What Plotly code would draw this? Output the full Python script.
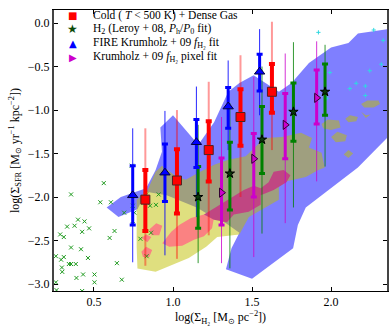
import plotly.graph_objects as go

# ---- filled density regions (data coords: log Sigma_H2, log Sigma_SFR)
blueX = [0.58, 0.67, 0.83, 0.89, 0.93, 0.92, 1.00, 1.08, 1.16, 1.26, 1.35, 1.42, 1.51, 1.67, 1.75, 1.86,
         2.00, 2.11, 2.17, 2.36, 2.36, 2.17, 1.84, 1.79, 1.76, 1.50, 1.335, 1.37, 1.42, 1.335, 1.25, 1.15,
         0.96, 0.83, 0.775, 0.655]
blueY = [-2.12, -2.00, -1.90, -1.69, -1.48, -1.20, -1.06, -1.23, -1.40, -1.14, -0.79, -0.69, -0.60, -0.79,
         -0.69, -0.46, -0.28, -0.23, -0.12, -0.07, -1.31, -1.66, -2.12, -2.32, -2.59, -2.94, -2.83, -2.59,
         -2.41, -2.30, -2.23, -2.12, -1.98, -1.94, -2.14, -2.23]

yellowX = [0.77, 0.84, 0.89, 0.93, 1.01, 1.08, 1.16, 1.26, 1.35, 1.46, 1.58, 1.69, 1.81, 1.88, 1.86, 1.94,
           1.96, 1.92, 1.84, 1.67, 1.67, 1.56, 1.48, 1.435, 1.42, 1.28, 1.21, 1.10, 1.00, 0.89, 0.775, 0.77]
yellowY = [-2.03, -1.92, -1.71, -1.64, -1.75, -1.80, -1.72, -1.63, -1.57, -1.53, -1.32, -1.31, -1.26, -1.32,
           -1.43, -1.49, -1.66, -1.69, -1.77, -1.84, -2.03, -2.15, -2.23, -2.38, -2.43, -2.46, -2.57, -2.70,
           -2.78, -2.86, -2.82, -2.57]

# small yellow islands lying under the blue region
islandsX = [[2.19, 2.23, 2.30, 2.31, 2.27, 2.21],
            [2.09, 2.12, 2.17, 2.16, 2.11],
            [2.19, 2.22, 2.25, 2.22],
            [1.94, 1.98, 2.05, 2.06, 2.00, 1.95],
            [2.00, 2.04, 2.10, 2.09, 2.03],
            [2.08, 2.11, 2.14, 2.11]]
islandsY = [[-0.93, -0.89, -0.89, -0.93, -0.97, -0.97],
            [-1.10, -1.06, -1.08, -1.13, -1.14],
            [-1.02, -1.09, -1.05, -1.06],
            [-1.16, -1.11, -1.12, -1.20, -1.23, -1.21],
            [-1.31, -1.25, -1.29, -1.36, -1.37],
            [-1.51, -1.46, -1.50, -1.55]]

pinkX = [[0.851, 0.894, 0.932, 0.913, 0.863],
         [0.80, 0.83, 0.863, 0.838],
         [0.80, 0.83, 0.868, 0.85, 0.81],
         [0.932, 0.989, 1.039, 1.114, 1.196, 1.259, 1.247, 1.196, 1.133, 1.058, 0.976]]
pinkY = [[-2.37, -2.30, -2.33, -2.44, -2.44],
         [-2.47, -2.43, -2.46, -2.52],
         [-2.63, -2.57, -2.61, -2.69, -2.69],
         [-2.53, -2.40, -2.32, -2.24, -2.20, -2.24, -2.36, -2.45, -2.49, -2.56, -2.57]]

magentaX = [1.196, 1.29, 1.366, 1.448, 1.511, 1.555, 1.605, 1.637, 1.70, 1.743, 1.718, 1.637, 1.555, 1.555,
            1.479, 1.385, 1.341, 1.259]
magentaY = [-2.20, -2.09, -2.01, -1.92, -1.87, -1.90, -1.83, -1.71, -1.69, -1.75, -1.83, -1.92, -1.98, -2.09,
            -2.17, -2.20, -2.29, -2.26]

# ---- scattered points
pixX = [0.562, 0.355, 0.540, 0.607, 0.691, 0.745, 0.756, 0.745, 0.399, 0.440, 0.377, 0.330, 0.469, 0.425,
        0.630, 0.286, 0.309, 0.599, 0.355, 0.418, 0.259, 0.309, 0.292, 0.462, 0.341, 0.355, 0.385, 0.645,
        0.297, 0.299, 0.503, 0.431, 0.389, 0.676, 0.503, 0.259, 0.263, 0.425, 0.794, 0.833, 0.739, 0.830,
        0.909, 0.855, 0.892, 0.861]
pixY = [-1.84, -1.97, -2.06, -2.06, -2.18, -2.10, -2.18, -2.31, -2.26, -2.28, -2.33, -2.34, -2.36, -2.40,
        -2.39, -2.43, -2.46, -2.47, -2.58, -2.60, -2.68, -2.69, -2.72, -2.70, -2.77, -2.77, -2.77, -2.76,
        -2.81, -2.86, -2.89, -2.89, -2.93, -2.95, -2.98, -2.98, -3.07, -3.08, -2.48, -2.68, -1.64, -1.97,
        -1.97, -2.10, -2.09, -2.41]

cyanX = [1.92, 1.993, 2.245, 2.159, 2.217, 2.119, 2.217, 2.318, 1.973, 2.27, 2.33]
cyanY = [-0.107, -0.569, -0.548, -0.693, -0.724, -0.753, -0.833, -0.474, -0.866, -0.08, -0.20]

# ---- binned fits: centre, inner (thick) and outer (thin) ranges
coldX = [0.825, 1.025, 1.226, 1.427, 1.626]
coldY = [-2.03, -1.81, -1.46, -1.08, -0.79]
coldInHi = [-1.69, -1.45, -1.13, -0.76, -0.47]
coldInLo = [-2.39, -2.19, -1.82, -1.41, -1.03]
coldOutHi = [-1.21, -1.00, -0.675, -0.37, 0.015]
coldOutLo = [-2.79, -2.71, -2.44, -2.00, -1.46]

leroyX = [1.159, 1.36, 1.563, 1.762, 1.962]
leroyY = [-2.00, -1.73, -1.34, -1.02, -0.79]
leroyInHi = [-1.65, -1.37, -0.96, -0.69, -0.47]
leroyInLo = [-2.36, -2.15, -1.73, -1.36, -1.06]
leroyOutHi = [-1.17, -0.92, -0.50, -0.22, -0.25]
leroyOutLo = [-2.76, -2.82, -2.42, -2.12, -1.65]

fireX = [0.745, 0.949, 1.148, 1.349, 1.548]
fireY = [-1.98, -1.72, -1.37, -0.96, -0.56]
fireInHi = [-1.64, -1.39, -1.11, -0.74, -0.36]
fireInLo = [-2.32, -2.05, -1.66, -1.21, -0.78]
fireOutHi = [-1.21, -1.01, -0.73, -0.43, -0.07]
fireOutLo = [-2.75, -2.67, -2.23, -1.46, -1.06]

pixfitX = [1.307, 1.511, 1.71, 1.909]
pixfitY = [-1.95, -1.56, -1.17, -0.86]
pixfitInHi = [-1.55, -1.27, -0.81, -0.54]
pixfitInLo = [-2.32, -2.00, -1.56, -1.16]
pixfitOutHi = [-1.08, -0.62, -0.35, -0.21]
pixfitOutLo = [-2.76, -2.69, -2.30, -1.82]

legendNames = ["Cold ( <i>T</i> < 500 K) + Dense Gas",
               "H<sub>2</sub> (Leroy + 08, <i>P</i><sub>h</sub>/<i>P</i><sub>0</sub> fit)",
               "FIRE Krumholz + 09 <i>f</i><sub>H\u2082</sub> fit",
               "Krumholz + 09 <i>f</i><sub>H\u2082</sub> pixel fit"]
legendGlyphs = ["\u25a0", "\u2605", "\u25b2", "\u25b6"]
legendColors = ["#ff0000", "#0a4a0a", "#0000ff", "#cc00cc"]
legendGlyphSizes = [10, 12, 10, 10]

xTicks = [0.5, 1.0, 1.5, 2.0]
xTickText = ["0.5", "1.0", "1.5", "2.0"]
yTicks = [-3.0, -2.5, -2.0, -1.5, -1.0, -0.5, 0.0]
yTickText = ["\u22123.0", "\u22122.5", "\u22122.0", "\u22121.5", "\u22121.0", "\u22120.5", "0.0"]

FONT = "Liberation Serif"


def join_parts(parts):
    out = []
    for p in parts:
        out += p + [p[0], None]
    return out


def region(x, y, color):
    return go.Scatter(x=x, y=y, mode="lines", fill="toself", fillcolor=color, line={"width": 0},
                      hoverinfo="skip", showlegend=False)


def err_bars(x, y, lo, hi, color, thickness, cap):
    return {"type": "data", "symmetric": False,
            "array": [h - c for h, c in zip(hi, y)], "arrayminus": [c - l for l, c in zip(lo, y)],
            "color": color, "thickness": thickness, "width": cap}


def outer_trace(x, y, lo, hi, color, thickness):
    return go.Scatter(x=x, y=y, mode="markers", marker={"size": 1, "color": "rgba(0,0,0,0)"},
                      error_y=err_bars(x, y, lo, hi, color, thickness, 0), showlegend=False, hoverinfo="skip")


def inner_trace(x, y, lo, hi, color, thickness, name, symbol, size, fill, edge):
    return go.Scatter(x=x, y=y, mode="markers", name=name, showlegend=False,
                      marker={"symbol": symbol, "size": size, "color": fill, "line": {"color": edge, "width": 1}},
                      error_y=err_bars(x, y, lo, hi, color, thickness, 3))


traces = [
    region(blueX + [blueX[0]], blueY + [blueY[0]], "rgba(0,0,255,0.5)"),
    region(yellowX + [yellowX[0]], yellowY + [yellowY[0]], "rgba(191,191,0,0.5)"),
    region(join_parts(islandsX), join_parts(islandsY), "rgba(191,191,0,0.5)"),
    region(join_parts(pinkX), join_parts(pinkY), "#fa8282"),
    region(magentaX + [magentaX[0]], magentaY + [magentaY[0]], "#c04682"),
    go.Scatter(x=pixX, y=pixY, mode="markers", showlegend=False,
               marker={"symbol": "x-thin", "size": 4, "line": {"color": "#1e9a1e", "width": 1}}),
    go.Scatter(x=cyanX, y=cyanY, mode="markers", showlegend=False,
               marker={"symbol": "cross-thin", "size": 3, "line": {"color": "#30d8e0", "width": 1}}),
    outer_trace(coldX, coldY, coldOutLo, coldOutHi, "rgba(255,0,0,0.4)", 2),
    outer_trace(leroyX, leroyY, leroyOutLo, leroyOutHi, "rgba(0,128,0,0.8)", 1),
    outer_trace(fireX, fireY, fireOutLo, fireOutHi, "rgba(0,0,255,0.85)", 1),
    outer_trace(pixfitX, pixfitY, pixfitOutLo, pixfitOutHi, "rgba(204,0,204,0.8)", 1),
    inner_trace(leroyX, leroyY, leroyInLo, leroyInHi, "#008000", 3, legendNames[1],
                "star", 7, "#0a3a0a", "#000000"),
    inner_trace(fireX, fireY, fireInLo, fireInHi, "#0000ff", 3, legendNames[2],
                "triangle-up", 9, "#0000ff", "#000040"),
    inner_trace(pixfitX, pixfitY, pixfitInLo, pixfitInHi, "#cc00cc", 3, legendNames[3],
                "triangle-right", 8, "#cc00cc", "#300030"),
    inner_trace(coldX, coldY, coldInLo, coldInHi, "#ff0000", 4, legendNames[0],
                "square", 9, "#ff0000", "#502020"),
]

# legend drawn as text rows (matplotlib-like compact spacing)
annotations = []
for i, (name, glyph, col, gs) in enumerate(zip(legendNames, legendGlyphs, legendColors, legendGlyphSizes)):
    rowY = 0.982 - i * 0.0498
    annotations.append({"xref": "paper", "yref": "paper", "x": 0.056, "y": rowY, "text": glyph,
                        "showarrow": False, "xanchor": "center", "yanchor": "middle",
                        "font": {"family": "DejaVu Sans", "size": gs, "color": col}})
    annotations.append({"xref": "paper", "yref": "paper", "x": 0.1125, "y": rowY, "text": name,
                        "showarrow": False, "xanchor": "left", "yanchor": "middle",
                        "font": {"family": FONT, "size": 11.5, "color": "#000"}})

axisCommon = {"showgrid": False, "zeroline": False, "ticks": "inside", "ticklen": 4, "tickcolor": "#000",
              "showline": True, "linecolor": "#000", "linewidth": 1,
              "tickfont": {"family": FONT, "size": 12, "color": "#000"}}

layout = {
    "width": 390, "height": 327,
    "margin": {"l": 54, "r": 1, "t": 10, "b": 36},
    "plot_bgcolor": "white", "paper_bgcolor": "white",
    "font": {"family": FONT, "color": "#000"},
    "showlegend": False,
    "annotations": annotations,
    "xaxis": dict(axisCommon, range=[0.247, 2.354], tickvals=xTicks, ticktext=xTickText, mirror="ticks",
                  title={"text": "log(\u03a3<sub>H\u2082</sub> [M<sub>\u2299</sub> pc<sup>\u22122</sup>])",
                         "font": {"family": FONT, "size": 12}, "standoff": 2}),
    "yaxis": dict(axisCommon, range=[-3.08, 0.15], tickvals=yTicks, ticktext=yTickText, mirror="ticks",
                  linewidth=2, linecolor="#444",
                  title={"text": "log(\u03a3<sub>SFR</sub> [M<sub>\u2299</sub> yr<sup>\u22121</sup> kpc<sup>\u22122</sup>])",
                         "font": {"family": FONT, "size": 12}, "standoff": 6}),
}

fig = go.Figure(data=traces, layout=layout)
fig.write_html("out.html", config={"displayModeBar": False},
               post_script="document.body.style.margin='0';")
